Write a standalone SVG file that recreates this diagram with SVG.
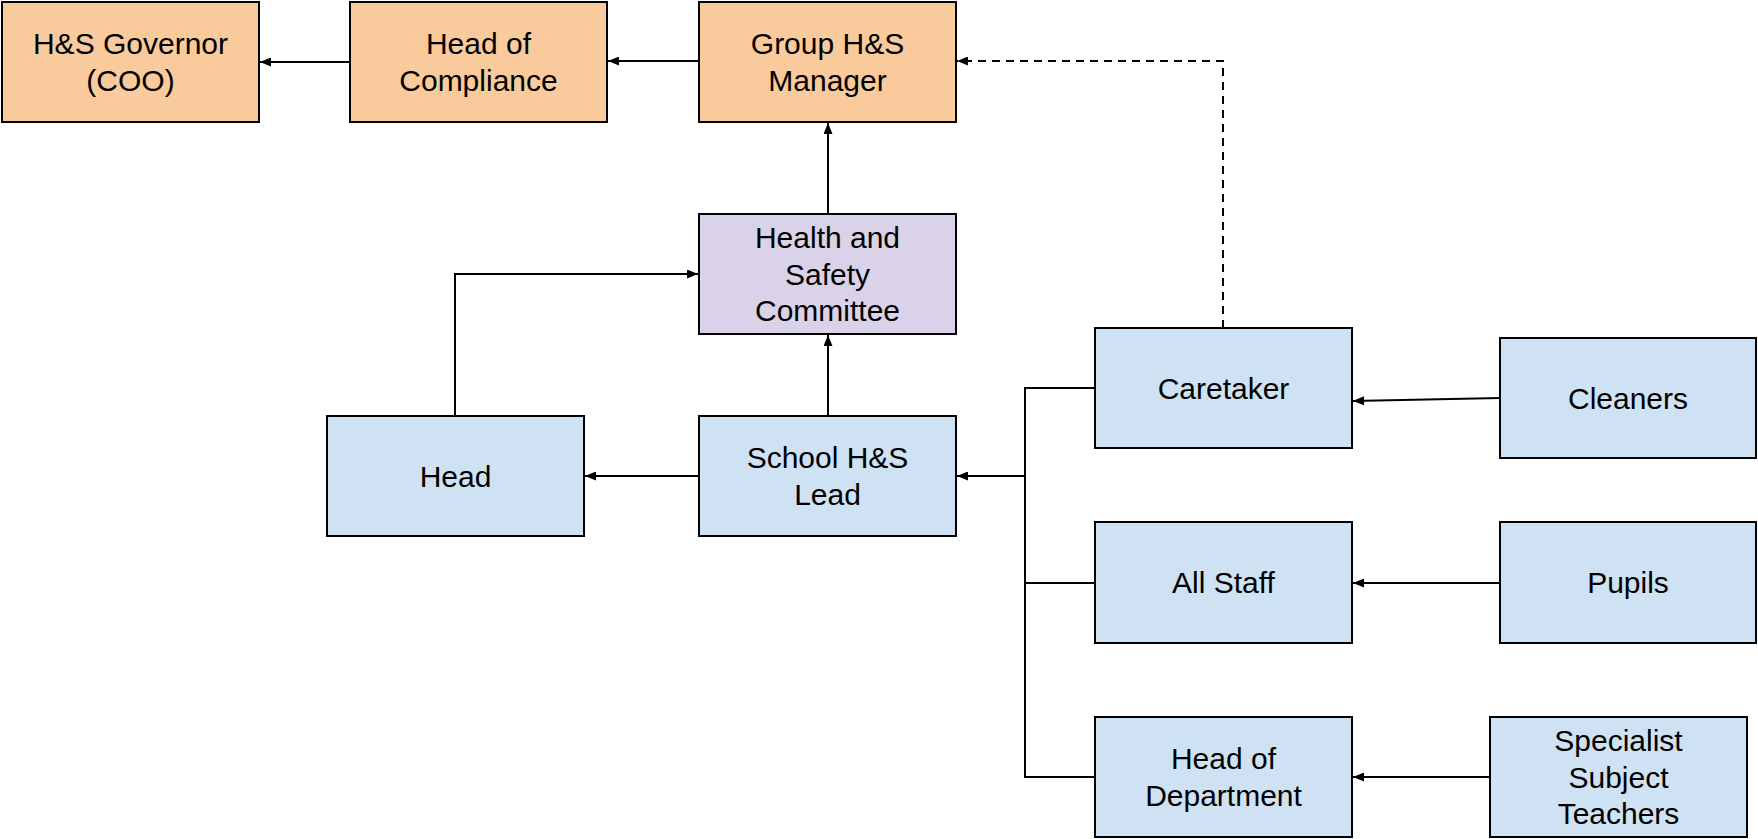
<svg xmlns="http://www.w3.org/2000/svg" width="1758" height="839" viewBox="0 0 1758 839">
<defs>
<marker id="arr" markerUnits="userSpaceOnUse" markerWidth="12" markerHeight="9" refX="11" refY="4.5" orient="auto">
<path d="M0,0 L11,4.5 L0,9 z" fill="#000"/>
</marker>
<style>
.box{stroke:#000;stroke-width:2}
.o{fill:#f9cb9c}.p{fill:#d9d2e9}.b{fill:#cfe2f3}
text{font-family:"Liberation Sans",Arial,sans-serif;font-size:30px;fill:#000;text-anchor:middle}
.c{fill:none;stroke:#000;stroke-width:2}
.a{marker-end:url(#arr)}
.d{stroke-dasharray:8,6}
</style>
</defs>
<rect width="1758" height="839" fill="#fff"/>
<g id="connectors">
<path class="c a" d="M350,62 H260"/>
<path class="c a" d="M699,61 H608"/>
<path class="c a" d="M828,214 V123"/>
<path class="c a" d="M828,416 V335"/>
<path class="c a" d="M455,416 V274 H698"/>
<path class="c a" d="M699,476 H585"/>
<path class="c a d" d="M1223,328 V61 H957"/>
<path class="c" d="M1095,388 H1025 V777 H1095 M1025,583 H1095"/>
<path class="c a" d="M1025,476 H957"/>
<path class="c a" d="M1500,398 L1353,401"/>
<path class="c a" d="M1500,583 H1353"/>
<path class="c a" d="M1490,777 H1353"/>
</g>
<g id="gov"><rect class="box o" x="2" y="2" width="257" height="120"/><text x="130.5" y="54">H&amp;S Governor</text><text x="130.5" y="91">(COO)</text></g>
<g id="hoc"><rect class="box o" x="350" y="2" width="257" height="120"/><text x="478.5" y="54">Head of</text><text x="478.5" y="91">Compliance</text></g>
<g id="gm"><rect class="box o" x="699" y="2" width="257" height="120"/><text x="827.5" y="54">Group H&amp;S</text><text x="827.5" y="91">Manager</text></g>
<g id="hsc"><rect class="box p" x="699" y="214" width="257" height="120"/><text x="827.5" y="248">Health and</text><text x="827.5" y="284.5">Safety</text><text x="827.5" y="321">Committee</text></g>
<g id="head"><rect class="box b" x="327" y="416" width="257" height="120"/><text x="455.5" y="486.5">Head</text></g>
<g id="lead"><rect class="box b" x="699" y="416" width="257" height="120"/><text x="827.5" y="468">School H&amp;S</text><text x="827.5" y="505">Lead</text></g>
<g id="caretaker"><rect class="box b" x="1095" y="328" width="257" height="120"/><text x="1223.5" y="398.5">Caretaker</text></g>
<g id="cleaners"><rect class="box b" x="1500" y="338" width="256" height="120"/><text x="1628" y="408.5">Cleaners</text></g>
<g id="allstaff"><rect class="box b" x="1095" y="522" width="257" height="121"/><text x="1223.5" y="593">All Staff</text></g>
<g id="pupils"><rect class="box b" x="1500" y="522" width="256" height="121"/><text x="1628" y="593">Pupils</text></g>
<g id="hod"><rect class="box b" x="1095" y="717" width="257" height="120"/><text x="1223.5" y="769">Head of</text><text x="1223.5" y="806">Department</text></g>
<g id="specialist"><rect class="box b" x="1490" y="717" width="257" height="120"/><text x="1618.5" y="751">Specialist</text><text x="1618.5" y="787.5">Subject</text><text x="1618.5" y="824">Teachers</text></g>
</svg>
